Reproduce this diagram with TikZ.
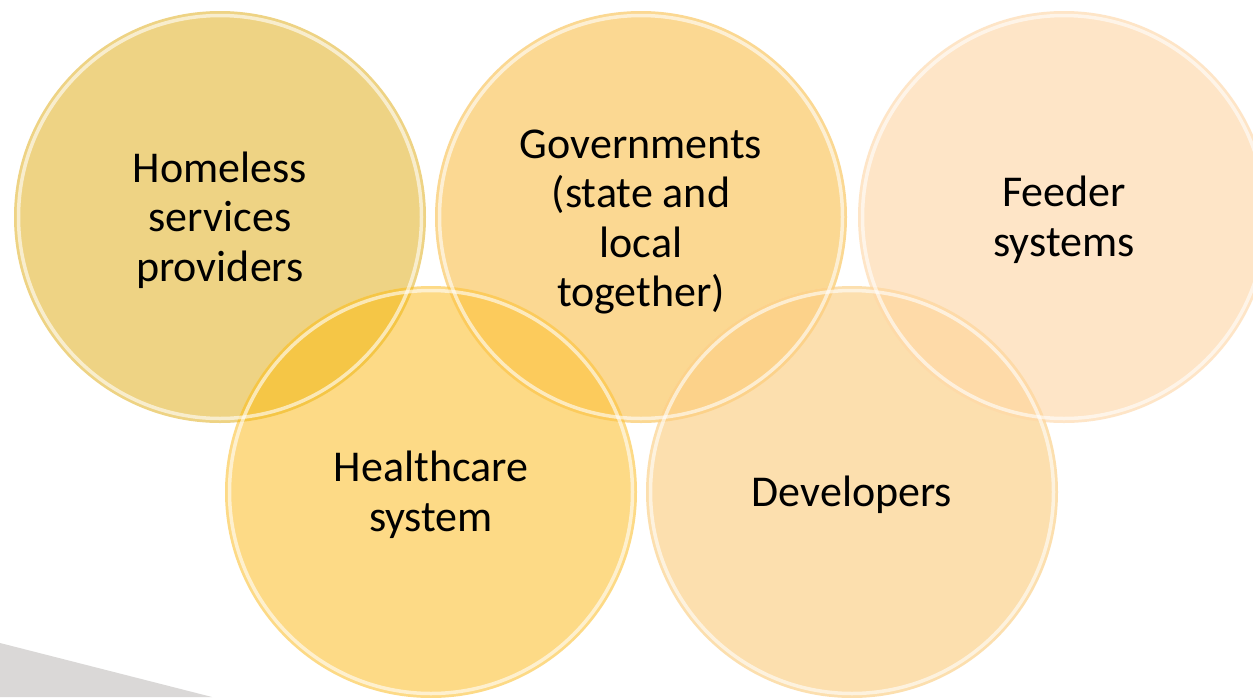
\documentclass[tikz,border=0pt]{standalone}
\usepackage{fontspec}
\setmainfont{Carlito}
\definecolor{cA}{HTML}{EED384}
\definecolor{cB}{HTML}{FBD892}
\definecolor{cC}{HTML}{FEE5C7}
\definecolor{cD}{HTML}{FDDA86}
\definecolor{cE}{HTML}{FCDFAE}
\definecolor{oAD}{HTML}{F5C646}
\definecolor{oBD}{HTML}{FCCB5C}
\definecolor{oBE}{HTML}{FCD28A}
\definecolor{oCE}{HTML}{FEDAA8}
\definecolor{wedge}{HTML}{DAD8D7}
\tikzset{
  bubble/.style={circle, minimum size=412pt, inner sep=0pt, draw=none},
  rim/.style={draw=white, line width=3.5pt, opacity=0.6},
  label/.style={align=center, font=\fontsize{44}{49.5}\selectfont, text=black, inner sep=0pt, yshift=-3pt}
}
\begin{document}
\begin{tikzpicture}[x=1pt,y=-1pt]
\useasboundingbox (0,0) rectangle (1253,697);
\fill[white] (0,0) rectangle (1253,697);
\fill[wedge] (0,643) -- (212,697) -- (0,697) -- cycle;
% circles
\node[bubble, fill=cA] (hsp) at (220,217) {};
\node[bubble, fill=cB] (gov) at (641,217) {};
\node[bubble, fill=cC] (fdr) at (1064,217) {};
\node[bubble, fill=cD] (hcs) at (431,492) {};
\node[bubble, fill=cE] (dev) at (852,492) {};
% overlaps
\begin{scope}\clip (hsp.center) circle (206pt); \fill[oAD] (hcs.center) circle (206pt);\end{scope}
\begin{scope}\clip (gov.center) circle (206pt); \fill[oBD] (hcs.center) circle (206pt);\end{scope}
\begin{scope}\clip (gov.center) circle (206pt); \fill[oBE] (dev.center) circle (206pt);\end{scope}
\begin{scope}\clip (fdr.center) circle (206pt); \fill[oCE] (dev.center) circle (206pt);\end{scope}
% rims
\foreach \c in {hsp,gov,fdr,hcs,dev}{
  \draw[rim] (\c.center) circle (201.5pt);
}
% labels
\node[label] (thsp) at (hsp.center) {Homeless\\services\\providers};
\node[label, yshift=-2pt] (tgov) at (gov.center) {Governments\\(state and\\local\\together)};
\node[label] (tfdr) at (fdr.center) {Feeder\\systems};
\node[label] (thcs) at (hcs.center) {Healthcare\\system};
\node[label] (tdev) at (dev.center) {Developers};
\end{tikzpicture}
\end{document}
